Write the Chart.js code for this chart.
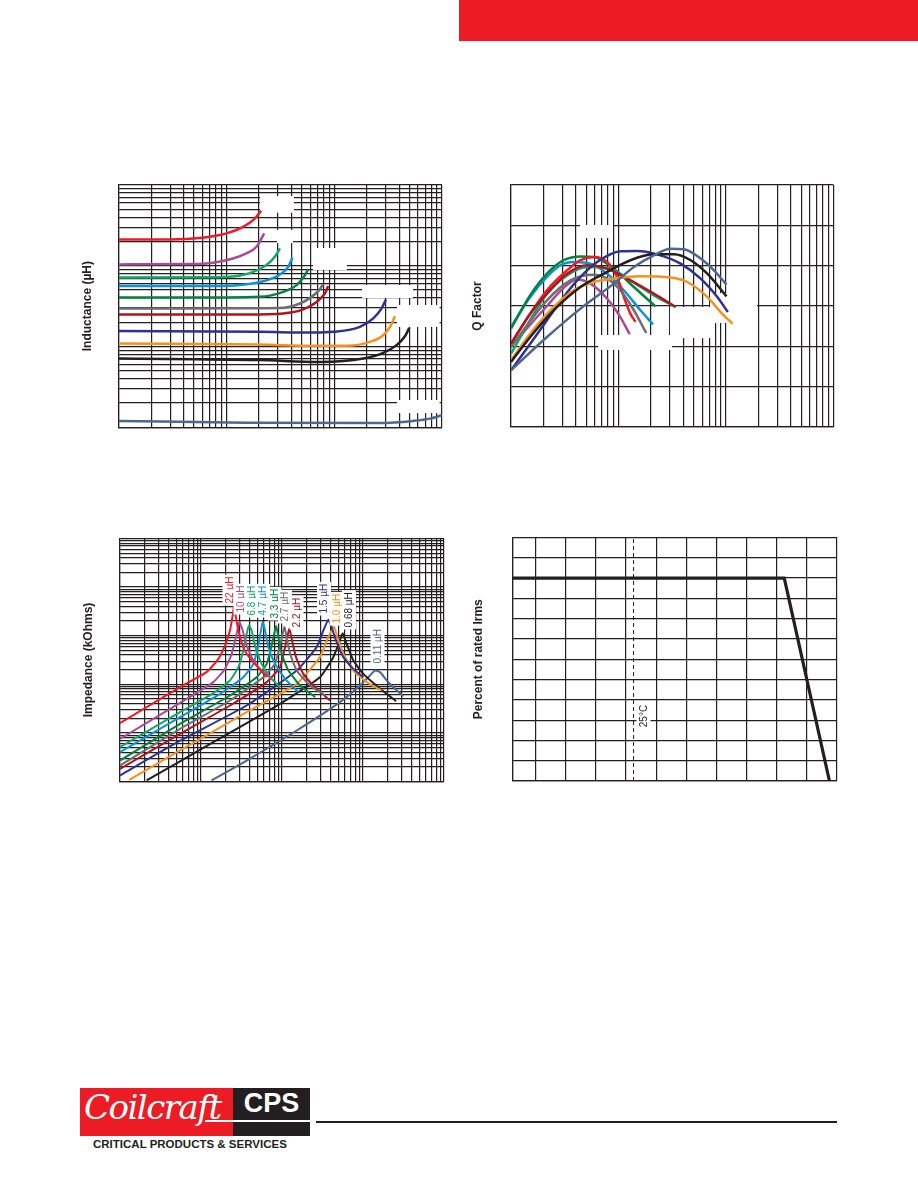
<!DOCTYPE html>
<html><head><meta charset="utf-8">
<script src="https://cdn.jsdelivr.net/npm/chart.js@4.4.1/dist/chart.umd.min.js"></script>
<style>
body{margin:0;width:918px;height:1188px;background:#fff;position:relative;overflow:hidden;font-family:'Liberation Sans',Arial,sans-serif}
.abs{position:absolute}
canvas{position:absolute}
</style></head><body>
<div class="abs" style="left:459px;top:0;width:459px;height:41px;background:#ed1c24"></div>
<canvas id="c1"></canvas>
<canvas id="c2"></canvas>
<canvas id="c3"></canvas>
<canvas id="c4"></canvas>

<div class="abs" style="left:80px;top:1088px;width:153px;height:48px;background:#ed1c24"></div>
<div class="abs" style="left:84px;top:1087px;font:italic 34px 'DejaVu Serif',serif;color:#fff;letter-spacing:-1.5px">Coilcraft</div>
<div class="abs" style="left:233px;top:1088px;width:77px;height:48px;background:#231f20"></div>
<div class="abs" style="left:233px;top:1088px;width:77px;text-align:center;font:bold 27px 'Liberation Sans',Arial;color:#fff">CPS</div>
<div class="abs" style="left:205px;top:1120px;width:105px;height:2px;background:#fff"></div>
<div class="abs" style="left:316px;top:1121px;width:270px;height:1.5px;background:#231f20"></div>
<div class="abs" style="left:585px;top:1120.5px;width:252px;height:2.5px;background:#231f20"></div>
<div class="abs" style="left:93px;top:1138px;font:bold 11.5px 'Liberation Sans',Arial;color:#231f20;white-space:nowrap">CRITICAL PRODUCTS &amp; SERVICES</div>

<script>
// ---------- series names & colours ----------
const partNames = ['22 µH','10 µH','6.8 µH','4.7 µH','3.3 µH','2.7 µH','2.2 µH','1.5 µH','1.0 µH','0.68 µH','0.11 µH'];
const partColors = ['#ed1c24','#a84c95','#13a86a','#0b93d8','#00843f','#6d6e71','#b0151d','#2e3192','#f7901e','#231f20','#4d6791'];

// ---------- Inductance (µH) vs frequency (MHz) ----------
const ind22  = [[1,21.2],[3,21.2],[6,22.3],[10,25.2],[14,29.9],[18,37.6],[21,48]];
const ind10  = [[1,10.4],[5,10.5],[7.5,10.9],[11.5,12.3],[15.3,14.2],[19,17.2],[22.4,25.2]];
const ind6_8 = [[1,7.17],[6,7.2],[10.7,7.3],[17.7,8.4],[23.5,10.2],[28.1,12.9],[31.3,16.4]];
const ind4_7 = [[1,5.6],[8,5.6],[13.3,5.76],[23.5,6.6],[31.3,7.8],[37.4,9.7],[41,12.7]];
const ind3_3 = [[1,4.06],[10,4.06],[20.4,4.12],[33.6,4.75],[44.7,5.76],[52.3,7.3],[57.3,9.0]];
const ind2_7 = [[1,2.96],[15,2.97],[31.3,2.99],[48,3.41],[61.6,4.12],[72.5,4.99],[79,5.93]];
const ind2_2 = [[1,2.49],[15,2.5],[33.6,2.57],[51.5,2.88],[68.6,3.57],[81.9,4.54],[87.9,5.6]];
const ind1_5 = [[1,1.56],[20,1.52],[63.8,1.49],[97.8,1.52],[173,1.75],[230,2.23],[275,2.96],[302,3.83]];
const ind1_0 = [[1,1.09],[20,1.06],[63.8,1.02],[130,1.02],[214,1.14],[285,1.38],[329,1.75],[366,2.38]];
const ind0_68= [[1,0.71],[20,0.68],[73.6,0.645],[186,0.71],[285,0.834],[379,1.04],[453,1.34],[497,1.70]];
const ind0_11= [[1,0.12],[15.3,0.114],[265,0.113],[541,0.12],[773,0.128],[994,0.141]];
// blank callout boxes [fMin, fMax, Lmin, Lmax]
const indCalloutBoxes = [[20.5,42.3,45.3,73.1],[29.4,41.4,19.1,27.7],[63.5,131,8.87,16.6],[181,538,3.99,5.78],[382,950,1.75,3.27],[382,950,0.15,0.218]];

// ---------- Q factor vs frequency (MHz) ----------
const q22  = [[1,41.3],[1.51,56.2],[2.16,67.8],[3.33,77.7],[4.43,82.7],[5.89,84.3],[7.84,81.8],[9.72,74.4],[11.2,64.5],[12.9,56.2],[14.4,52.1]];
const q10  = [[1,40],[2.16,60],[3.09,69],[4.12,73.2],[5.48,71.1],[7.84,63.6],[10.4,54.5],[12.7,46]];
const q6_8 = [[1,36.4],[2.16,66.1],[3.33,75.2],[5.11,79.3],[7.84,79],[12.9,72.7],[21.3,65.3],[34,59.5]];
const q4_7 = [[1,49.6],[1.51,64.5],[2.16,74.4],[2.88,80.2],[3.84,81.8],[5.48,81],[7.84,76],[11.2,67.8],[16,57.9],[20.9,50.9]];
const q3_3 = [[1,48.8],[1.51,65.3],[2.16,76],[3.09,82.7],[4.43,84.6],[5.89,84.3],[9.05,78.5],[13.9,69.4],[22.1,59.8]];
const q2_7 = [[1,39.7],[2.16,62.8],[3.57,72.7],[5.89,75.5],[7.84,73.6],[10.4,67.8],[13.9,57.9],[18.1,46.6]];
const q2_2 = [[1,41.3],[1.51,56.2],[2.16,66.1],[3.33,76],[5.11,80.2],[7.84,78.5],[12.9,72.7],[21.3,66.1],[34,59.5]];
const q1_5 = [[1,28.1],[1.51,41.3],[2.16,52.9],[3.09,64.5],[4.43,74.4],[6.33,81.8],[10.4,87.1],[14.9,87.3],[22.9,85.6],[37.8,81],[58.1,73.6],[83,64.5],[104,57]];
const q1_0 = [[1,33.1],[1.51,46.3],[2.5,59.5],[3.84,67.8],[5.89,71.9],[9.05,73.6],[16,74.7],[30.5,74.1],[43.6,71.9],[67,64.5],[89.1,57],[115,51.2]];
const q0_68= [[1,32.2],[1.51,44.6],[2.5,57.9],[4.43,69.4],[7.84,76.9],[12.9,82.7],[21.3,85.6],[32.8,85.6],[46.9,82.7],[67,76],[101,64.8]];
const q0_11= [[1,28.1],[2.16,44.6],[4.43,58.7],[9.05,71.1],[13.9,79.3],[21.3,85.1],[30.5,88.4],[40.6,88.1],[58.1,83.5],[77.3,77.7],[101,70.6]];
// blank callout boxes [fMin, fMax, Qmin, Qmax]
const qCalloutBoxes = [[4.38,8.89,93.7,100.2],[6.45,31.5,38.2,45.6],[30.1,74.1,44.1,59.5],[71,194,51.6,66.4]];

// ---------- Impedance (kOhms) vs frequency (MHz) ----------
const z22  = [[1,0.159],[5.51,0.873],[11.7,1.78],[16.4,3.34],[19.8,6.29],[22.8,12.8],[24.6,26],[25.5,38.6],[27,24.1],[28.9,12.8],[32.7,6.29],[36.6,4.24],[44.3,2.85],[64.7,1.4]];
const z10  = [[1,0.0755],[5.51,0.416],[14.2,1.11],[19.8,2.08],[23.9,4.24],[27,9.33],[29.7,19],[32.7,12.8],[36.6,6.29],[44.3,3.09],[56.1,1.92],[74.6,1.3]];
const z6_8 = [[1,0.0508],[5.51,0.267],[14.2,0.657],[22.8,1.2],[28.9,2.25],[33.3,4.96],[36.6,10.9],[39.1,16.2],[42.2,12.8],[46.4,6.29],[56.1,2.64],[71.1,1.4],[94.5,0.873]];
const z4_7 = [[1,0.0402],[5.51,0.211],[17.2,0.637],[33.3,1.4],[44.3,2.64],[51,6.29],[57.7,19],[61.7,12.8],[67.8,5.81],[82,2.64],[109,1.3],[159,0.689]];
const z3_3 = [[1,0.027],[5.51,0.154],[22.8,0.588],[48.6,1.4],[64.7,2.64],[74.6,6.29],[84.3,15.7],[90.1,9.33],[99.1,4.24],[120,1.92],[167,0.945],[256,0.544]];
const z2_7 = [[1,0.0213],[5.51,0.121],[22.8,0.464],[58.8,1.4],[82,2.64],[94.5,6.29],[107,15],[114,9.33],[126,4.24],[152,1.92],[222,0.945],[340,0.588]];
const z2_2 = [[1,0.0182],[5.51,0.0957],[22.8,0.366],[64.7,1.11],[94.5,2.25],[109,5.81],[123,13.8],[133,7.97],[149,3.62],[183,1.64],[256,0.873],[391,0.464]];
const z1_5 = [[1,0.0133],[5.51,0.069],[36.6,0.366],[152,1.92],[268,5.81],[324,12.8],[373,21.2],[410,15],[464,7.97],[572,3.62],[760,2.08],[1009,1.4]];
const z1_0 = [[1.3,0.0108],[5.51,0.0435],[36.6,0.267],[152,1.02],[294,3.62],[373,9.33],[438,15.5],[482,9.33],[572,4.24],[760,1.92],[1109,1.11],[1700,0.746]];
const z0_68= [[2.13,0.0105],[14.2,0.0645],[94.5,0.397],[294,1.4],[430,3.62],[510,7.36],[561,11.3],[628,6.8],[760,3.09],[1009,1.64],[1546,0.873],[2556,0.45]];
const z0_11= [[13.5,0.0105],[36.6,0.027],[152,0.112],[520,0.429],[918,0.945],[1220,1.52],[1406,1.92],[1622,1.78],[1959,1.2],[2483,0.807],[3148,0.57]];
// label anchors (frequency, impedance) for the part-value callouts
const zLabelF = [22.5,30.7,42,58.2,80.8,109,151,330,471,671,1510];
const zLabelZ = [46,30,26,26,22.6,19.6,14.8,28.6,17.8,14.8,2.68];

// ---------- Current derating: % of rated Irms vs ambient temperature (°C) ----------
const derateTemp = [-55, 125, 155];
const deratePct  = [100, 100, 0];
const refTemp = 25;
const refLabel = '25°C';
const refLabelAt = [31.6, 26.5];

// ---------- grid definitions ----------
function logGrid(min, max){ const g=[]; for(let d=min; d<max*0.999; d*=10){ for(let k=1;k<10;k++) g.push(+(d*k).toPrecision(6)); } g.push(max); return g; }
const freqGrid3 = logGrid(1,1000);
const freqGrid4 = logGrid(1,10000);
const indGrid = logGrid(0.1,100);
const zGrid = logGrid(0.01,1000);
const qGrid = [0,20,40,60,80,100,120];
const tempGrid = [-55,-40,-20,0,20,40,60,80,100,120,140,160];
const pctGrid = [0,10,20,30,40,50,60,70,80,90,100,110,120];

// ---------- helpers ----------
Chart.defaults.font.family = "'Liberation Sans', Arial, sans-serif";
Chart.defaults.color = '#231f20';
const INK = '#231f20';
const TITLE_SIZE = 12, LH = TITLE_SIZE*1.2;

function axis(type, min, max, grid, extra){
  return Object.assign({
    type, min, max,
    ticks:{display:false},
    grid:{color:INK, lineWidth:1.2, drawTicks:false},
    border:{display:true, color:INK, width:1.2},
    afterBuildTicks:(a)=>{ a.ticks = grid.map(v=>({value:v})); }
  }, extra||{});
}
function series(pairs, color, width, mode){
  return {data:pairs.map(p=>({x:p[0], y:p[1]})), borderColor:color, backgroundColor:color,
    borderWidth:width, pointRadius:0, fill:false, cubicInterpolationMode:mode||'monotone'};
}
function rotLabels(items, size){
  return {id:'rotLabels', afterDatasetsDraw(chart){
    const {ctx, scales:{x,y}} = chart;
    ctx.save();
    ctx.font = size+"px 'Liberation Sans', Arial, sans-serif";
    items.forEach(it=>{
      const px = x.getPixelForValue(it.x), py = y.getPixelForValue(it.y);
      const w = ctx.measureText(it.text).width;
      ctx.save(); ctx.translate(px, py); ctx.rotate(-Math.PI/2);
      ctx.fillStyle='#fff'; ctx.fillRect(-2, -size/2-2, w+4, size+4);
      ctx.fillStyle=it.color; ctx.textBaseline='middle'; ctx.textAlign='left';
      ctx.fillText(it.text, 0, 0.5);
      ctx.restore();
    });
    ctx.restore();
  }};
}
function blankBoxes(boxes){
  return {id:'blankBoxes', beforeDatasetsDraw(chart){
    const {ctx, scales:{x,y}} = chart;
    ctx.save(); ctx.fillStyle='#fff';
    boxes.forEach(b=>{
      const x0=x.getPixelForValue(b[0]), x1=x.getPixelForValue(b[1]);
      const y0=y.getPixelForValue(b[2]), y1=y.getPixelForValue(b[3]);
      ctx.fillRect(Math.min(x0,x1), Math.min(y0,y1), Math.abs(x1-x0), Math.abs(y1-y0));
    });
    ctx.restore();
  }};
}
function make(id, box, area, titleCx, titleText, xs, ys, datasets, plugins){
  const cv = document.getElementById(id);
  cv.width = box.w; cv.height = box.h;
  cv.style.left = box.left+'px'; cv.style.top = box.top+'px';
  ys.title = {display:true, text:titleText, color:INK, font:{size:TITLE_SIZE, weight:'bold'},
              padding:{top:0, bottom: area.l - titleCx - LH/2}};
  return new Chart(cv, {
    type:'line',
    data:{datasets},
    options:{
      responsive:false, animation:false, events:[],
      layout:{padding:{left: titleCx - box.left - LH/2, top: area.t - box.top,
                       right: box.left + box.w - area.r, bottom: box.top + box.h - area.b}},
      plugins:{legend:{display:false}, tooltip:{enabled:false}},
      scales:{x:xs, y:ys}
    },
    plugins: plugins||[]
  });
}

// ---------- Chart 1: inductance ----------
const indSets = [ind22,ind10,ind6_8,ind4_7,ind3_3,ind2_7,ind2_2,ind1_5,ind1_0,ind0_68,ind0_11];
make('c1', {left:60, top:175, w:400, h:265}, {l:118.7, t:185, r:442, b:427.3}, 87.3, 'Inductance (µH)',
  axis('logarithmic', 1, 1000, freqGrid3), axis('logarithmic', 0.1, 100, indGrid),
  indSets.map((s,i)=>series(s, partColors[i], 2.5)),
  [blankBoxes(indCalloutBoxes)]);

// ---------- Chart 2: Q factor ----------
const qSets = [q22,q10,q6_8,q4_7,q3_3,q2_7,q2_2,q1_5,q1_0,q0_68,q0_11];
const qOrder = [10,9,8,7,6,5,2,1,0,4,3];
make('c2', {left:450, top:175, w:400, h:265}, {l:511, t:185, r:833.5, b:427}, 478, 'Q Factor',
  axis('logarithmic', 1, 1000, freqGrid3), axis('linear', 0, 120, qGrid),
  qOrder.map(i=>series(qSets[i], partColors[i], 2.5)),
  [blankBoxes(qCalloutBoxes)]);

// ---------- Chart 3: impedance ----------
const zSets = [z22,z10,z6_8,z4_7,z3_3,z2_7,z2_2,z1_5,z1_0,z0_68,z0_11];
make('c3', {left:60, top:528, w:400, h:265}, {l:120, t:538.5, r:444, b:781.5}, 88.3, 'Impedance (kOhms)',
  axis('logarithmic', 1, 10000, freqGrid4), axis('logarithmic', 0.01, 1000, zGrid),
  zSets.map((s,i)=>Object.assign(series(s, partColors[i], 2, 'default'),{tension:0.15})),
  [rotLabels(partNames.map((t,i)=>({text:t, x:zLabelF[i], y:zLabelZ[i], color:partColors[i]})), 10)]);

// ---------- Chart 4: derating ----------
make('c4', {left:450, top:528, w:400, h:265}, {l:513, t:537.5, r:837, b:781}, 478.3, 'Percent of rated Irms',
  axis('linear', -55, 160, tempGrid), axis('linear', 0, 120, pctGrid),
  [
    Object.assign(series([[refTemp,0],[refTemp,120]], INK, 1, 'default'), {borderDash:[4,3], tension:0}),
    Object.assign(series(derateTemp.map((t,i)=>[t, deratePct[i]]), INK, 3.2, 'default'), {tension:0})
  ],
  [rotLabels([{text:refLabel, x:refLabelAt[0], y:refLabelAt[1], color:INK}], 10)]);
</script>
</body></html>
